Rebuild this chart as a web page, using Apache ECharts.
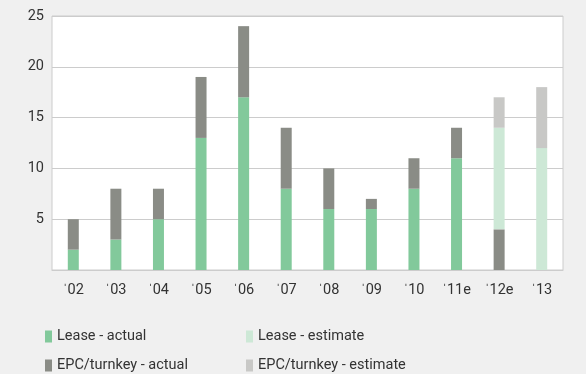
<!DOCTYPE html>
<html><head><meta charset="utf-8">
<script src="https://cdn.jsdelivr.net/npm/echarts@6/dist/echarts.min.js"></script>
<style>html,body{margin:0;padding:0;background:#f0f0f0;}#c{width:586px;height:374px;}</style>
</head><body><div id="c"></div>
<script>
const categories = ["\u02c802","\u02c803","\u02c804","\u02c805","\u02c806","\u02c807","\u02c808","\u02c809","\u02c810","\u02c811e","\u02c812e","\u02c813"];
const leaseActual = [2,3,5,13,17,8,6,6,8,11,null,null];
const epcActual = [3,5,3,6,7,6,4,1,3,3,4,null];
const leaseEstimate = [null,null,null,null,null,null,null,null,null,null,10,12];
const epcEstimate = [null,null,null,null,null,null,null,null,null,null,3,6];
const yTicks = [0,5,10,15,20,25];

const font = 'Roboto';
const chart = echarts.init(document.getElementById('c'));
const mk = (name, data, color) => ({name, type:'bar', stack:'t', data, barWidth:11, itemStyle:{color}, emphasis:{disabled:true}});
const lg = (name, left, top) => ({left, top, itemWidth:7, itemHeight:12, icon:'rect', padding:0,
  textStyle:{fontSize:14.5,color:'#333',fontFamily:font}, data:[name]});
chart.setOption({
  backgroundColor:'#f0f0f0',
  animation:false,
  textStyle:{fontFamily:font},
  grid:{left:52,right:23,top:16,bottom:104,show:true,backgroundColor:'#fff',borderColor:'#cccccc',borderWidth:1},
  xAxis:{type:'category',data:categories,
    axisLine:{lineStyle:{color:'#cccccc',width:1}},
    axisTick:{inside:true,length:4,lineStyle:{color:'#cccccc'}},
    axisLabel:{color:'#333',fontSize:14.5,margin:13,fontFamily:font}},
  yAxis:{type:'value',min:yTicks[0],max:yTicks[yTicks.length-1],interval:5,
    axisLine:{show:false},axisTick:{show:false},
    splitLine:{lineStyle:{color:'#cccccc',width:1}},
    axisLabel:{color:'#333',fontSize:14.5,margin:8,fontFamily:font,formatter:v=>v===0?'':String(v)}},
  legend:[
    lg('Lease - actual',45,329),
    lg('EPC/turnkey - actual',45,358),
    lg('Lease - estimate',246,329),
    lg('EPC/turnkey - estimate',246,358)
  ],
  series:[
    mk('Lease - actual',leaseActual,'#82c99b'),
    mk('EPC/turnkey - actual',epcActual,'#8a8c86'),
    mk('Lease - estimate',leaseEstimate,'#cde8d6'),
    mk('EPC/turnkey - estimate',epcEstimate,'#c8c8c6')
  ]
});
</script></body></html>
